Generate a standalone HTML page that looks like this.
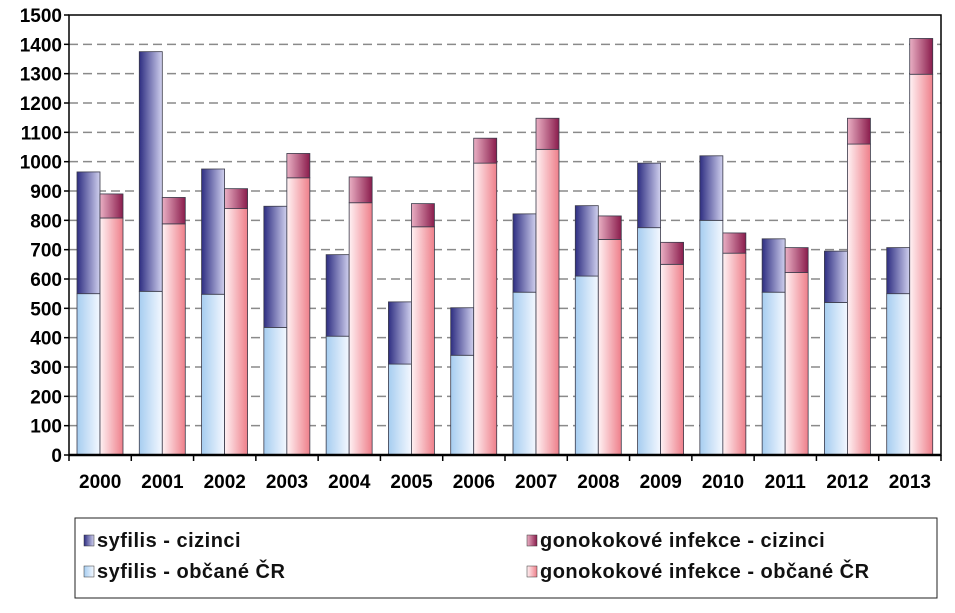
<!DOCTYPE html>
<html><head><meta charset="utf-8"><style>
body{margin:0;background:#fff;width:955px;height:608px;overflow:hidden;font-family:"Liberation Sans",Arial,sans-serif}
</style></head><body>
<svg width="955" height="608">
<defs>
<linearGradient id="gSC" x1="0" x2="1"><stop offset="0" stop-color="#2e2e82"/><stop offset="1" stop-color="#d0d0ee"/></linearGradient>
<linearGradient id="gSO" x1="0" x2="1"><stop offset="0" stop-color="#a6cdf0"/><stop offset="1" stop-color="#f4f8ff"/></linearGradient>
<linearGradient id="gGC" x1="0" x2="1"><stop offset="0" stop-color="#eab0c4"/><stop offset="1" stop-color="#8a1c4c"/></linearGradient>
<linearGradient id="gGO" x1="0" x2="1"><stop offset="0" stop-color="#fff2f4"/><stop offset="1" stop-color="#ee7f8a"/></linearGradient>
</defs>
<g id="grid"></g>
<g id="bars"></g>
<g id="axes"></g>
<g>
<rect x="75" y="518" width="862" height="80" fill="#fff" stroke="#222" stroke-width="1"/>
<g><rect x="84" y="535" width="10" height="11" fill="url(#gSC)" stroke="#333" stroke-width="0.5"/><text x="97" y="547" font-size="20" font-weight="bold" fill="#111" letter-spacing="0.5">syfilis - cizinci</text></g>
<g><rect x="84" y="566" width="10" height="11" fill="url(#gSO)" stroke="#333" stroke-width="0.5"/><text x="97" y="578" font-size="20" font-weight="bold" fill="#111" letter-spacing="0.5">syfilis - občané ČR</text></g>
<g><rect x="527" y="535" width="10" height="11" fill="url(#gGC)" stroke="#333" stroke-width="0.5"/><text x="540" y="547" font-size="20" font-weight="bold" fill="#111" letter-spacing="0.5">gonokokové infekce - cizinci</text></g>
<g><rect x="527" y="566" width="10" height="11" fill="url(#gGO)" stroke="#333" stroke-width="0.5"/><text x="540" y="578" font-size="20" font-weight="bold" fill="#111" letter-spacing="0.5">gonokokové infekce - občané ČR</text></g>
</g>
</svg>
<script>
const years=["2000","2001","2002","2003","2004","2005","2006","2007","2008","2009","2010","2011","2012","2013"];
const syfTotal=[965,1375,975,848,683,522,502,822,850,995,1020,737,695,707];
const syfObc=[550,558,548,435,405,310,340,555,610,775,800,555,520,550];
const gonoTotal=[890,878,908,1028,948,857,1080,1148,815,725,757,707,1148,1420];
const gonoObc=[808,788,840,945,860,778,995,1042,735,650,688,622,1060,1298];
const yTicks=[0,100,200,300,400,500,600,700,800,900,1000,1100,1200,1300,1400,1500];
const NS="http://www.w3.org/2000/svg";
const X0=69,X1=941,Y0=455,Y1=15,YMAX=1500;
const gw=(X1-X0)/years.length;
const y=v=>Y0-(v/YMAX)*(Y0-Y1);
function mk(t,a,p){const e=document.createElementNS(NS,t);for(const k in a)e.setAttribute(k,a[k]);p.appendChild(e);return e;}
const grid=document.getElementById('grid'),bars=document.getElementById('bars'),axes=document.getElementById('axes');
yTicks.forEach(v=>{
 if(v>0&&v<YMAX){const l=mk('line',{x1:X0,x2:X1,y1:y(v),y2:y(v),stroke:'#8a8a8a','stroke-width':1.5,'stroke-dasharray':'9,5'},grid);
 
 }
 const tk=mk('line',{x1:X0-5,x2:X0,y1:y(v),y2:y(v),stroke:'#000','stroke-width':1.5},axes);
 
 
 const t=mk('text',{x:X0-7,y:y(v)+7,'text-anchor':'end','font-size':19,'font-weight':'bold',fill:'#000'},axes);
 t.textContent=v;
 
 
});
const bw=23,off=8;
function bar(x,v0,v1,fill,name){
 const r=mk('rect',{x:x,y:y(v1),width:bw,height:y(v0)-y(v1),fill:fill,stroke:'#3a3a4a','stroke-width':0.8},bars);
 
 
}
years.forEach((yr,i)=>{
 const gx=X0+i*gw+off;
 bar(gx,0,syfObc[i],'url(#gSO)','bar-syfilis-obcane-'+yr);
 bar(gx,syfObc[i],syfTotal[i],'url(#gSC)','bar-syfilis-cizinci-'+yr);
 bar(gx+bw,0,gonoObc[i],'url(#gGO)','bar-gono-obcane-'+yr);
 bar(gx+bw,gonoObc[i],gonoTotal[i],'url(#gGC)','bar-gono-cizinci-'+yr);
 const t=mk('text',{x:X0+i*gw+gw/2,y:488,'text-anchor':'middle','font-size':19,'font-weight':'bold',fill:'#000'},axes);
 t.textContent=yr;
 
 
});
for(let i=0;i<=years.length;i++){const tk=mk('line',{x1:X0+i*gw,x2:X0+i*gw,y1:Y0,y2:Y0+6,stroke:'#000','stroke-width':1.5},axes);
 
 }
const frame=mk('rect',{x:X0,y:Y1,width:X1-X0,height:Y0-Y1,fill:'none',stroke:'#000','stroke-width':1.5},axes);


const base=mk('line',{x1:X0,x2:X1,y1:Y0,y2:Y0,stroke:'#000','stroke-width':2.5},axes);


</script>
</body></html>
